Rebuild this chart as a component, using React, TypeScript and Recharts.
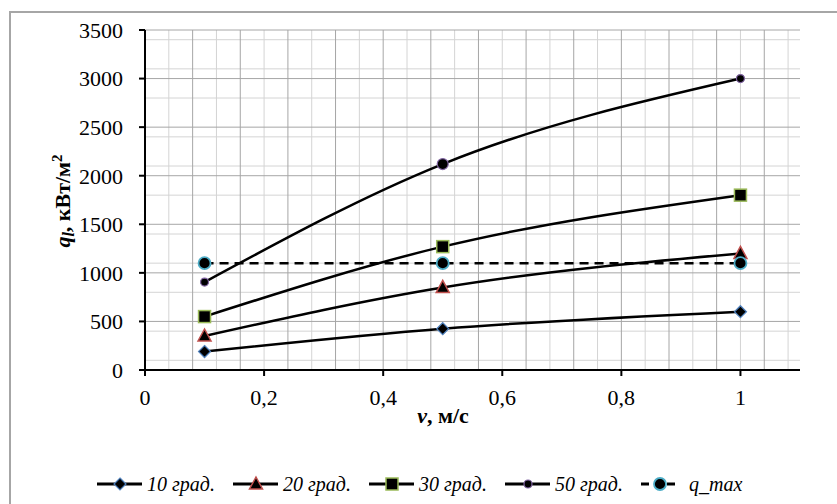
import React from 'react'
import { LineChart, Line, XAxis, YAxis, CartesianGrid, Label } from 'recharts'

// скорость, м/с
const speeds = [0.1, 0.5, 1]

// тепловой поток q_l, кВт/м2 по температурным напорам
const q10 = [190, 425, 600]
const q20 = [350, 850, 1200]
const q30 = [550, 1270, 1800]
const q50 = [905, 2120, 3000]
const qMax = [1100, 1100, 1100]

const xTicks = [0, 0.2, 0.4, 0.6, 0.8, 1]
const yTicks = [0, 500, 1000, 1500, 2000, 2500, 3000, 3500]

const seriesNames = ['10 град.', '20 град.', '30 град.', '50 град.', 'q_max']

const data = speeds.map((x, i) => ({
  x,
  s10: q10[i],
  s20: q20[i],
  s30: q30[i],
  s50: q50[i],
  qmax: qMax[i]
}))

const FONT = 'Liberation Serif'

// сетка как в Excel: вертикальные через 0.04, горизонтальные через 100
const vMinor: number[] = []
const vMajor: number[] = []
for (let k = 1; k <= 27; k++) {
  const v = Math.round(k * 0.04 * 100) / 100
  if (k % 2 === 0) vMajor.push(v)
  else vMinor.push(v)
}
const hMinor: number[] = []
for (let k = 100; k <= 3500; k += 100) if (k % 500 !== 0) hMinor.push(k)
const hMajor = yTicks.filter(v => v > 0)

const markerColors = {
  s10: '#4F81BD',
  s20: '#C0504D',
  s30: '#9BBB59',
  s50: '#8064A2',
  qmax: '#4BACC6'
}

type Shape = 'diamond' | 'triangle' | 'square' | 'circle' | 'bigcircle'

const drawMarker = (shape: Shape, cx: number, cy: number, outline: string, big = false) => {
  if (shape === 'diamond') {
    const r = 6
    return <polygon points={`${cx},${cy - r} ${cx + r},${cy} ${cx},${cy + r} ${cx - r},${cy}`} fill="#000" stroke={outline} strokeWidth={1.2} />
  }
  if (shape === 'triangle') {
    return <polygon points={`${cx},${cy - 7} ${cx + 6.5},${cy + 5} ${cx - 6.5},${cy + 5}`} fill="#000" stroke={outline} strokeWidth={1.5} />
  }
  if (shape === 'square') {
    return <rect x={cx - 6} y={cy - 6} width={12} height={12} fill="#000" stroke={outline} strokeWidth={1.5} />
  }
  if (shape === 'circle') {
    return <circle cx={cx} cy={cy} r={big ? 5.5 : 4} fill="#000" stroke={outline} strokeWidth={1.2} />
  }
  return <circle cx={cx} cy={cy} r={6} fill="#000" stroke={outline} strokeWidth={1.8} />
}

const makeDot = (shape: Shape, outline: string) => (props: any) => {
  const { cx, cy, index } = props
  if (cx == null || cy == null) return <g key={`d-${shape}-${index}`} />
  return (
    <g key={`d-${shape}-${index}`}>
      {drawMarker(shape, cx, cy, outline, shape === 'circle' && index === 1)}
    </g>
  )
}

const YTitle = () => (
  <g transform="translate(70,201) rotate(-90)">
    <text x={0} y={0} textAnchor="middle" style={{ fontFamily: FONT }} fontSize={22} fontWeight="bold" fill="#000">
      <tspan fontStyle="italic">q</tspan>
      <tspan fontStyle="italic" fontSize={16} dy={4}>l</tspan>
      <tspan dy={-4}>, кВт/м</tspan>
      <tspan fontSize={15} dy={-8}>2</tspan>
    </text>
  </g>
)

const XTitle = () => (
  <text x={443} y={423} textAnchor="middle" style={{ fontFamily: FONT }} fontSize={22} fontWeight="bold" fill="#000">
    <tspan fontStyle="italic">v</tspan>
    <tspan>, м/с</tspan>
  </text>
)

const fmt = (v: number) => String(v).replace('.', ',')

const legendShapes: Shape[] = ['diamond', 'triangle', 'square', 'circle', 'bigcircle']
const legendColors = [markerColors.s10, markerColors.s20, markerColors.s30, markerColors.s50, markerColors.qmax]

const ChartLegend = () => (
  <div
    style={{
      position: 'absolute',
      left: 96,
      top: 472,
      display: 'flex',
      alignItems: 'center',
      fontFamily: FONT,
      fontStyle: 'italic',
      fontSize: 20
    }}
  >
    {seriesNames.map((name, i) => {
      const dashed = i === 4
      return (
        <div key={name} style={{ display: 'flex', alignItems: 'center', width: i < 4 ? 136 : undefined }}>
          <svg width={dashed ? 40 : 47} height={24}>
            <line
              x1={1}
              x2={dashed ? 39 : 46}
              y1={12}
              y2={12}
              stroke="#000"
              strokeWidth={3}
              strokeDasharray={dashed ? '8 5' : undefined}
            />
            {drawMarker(legendShapes[i], dashed ? 20 : 24, 12, legendColors[i])}
          </svg>
          <span style={{ marginLeft: dashed ? 9 : 4 }}>{name}</span>
        </div>
      )
    })}
  </div>
)

export default function App() {
  return (
    <div style={{ position: 'fixed', left: 0, top: 0, width: 837, height: 504, background: '#fff', overflow: 'hidden' }}>
      <div
        style={{
          position: 'absolute',
          left: 9,
          top: 11,
          width: 860,
          height: 520,
          border: '2px solid #a6a6a6',
          boxSizing: 'border-box'
        }}
      />
      <div style={{ position: 'absolute', left: 0, top: 0 }}>
        <LineChart width={837} height={504} data={data} margin={{ top: 30, right: 37, bottom: 74, left: 0 }}>
          <CartesianGrid
            stroke="#d4d4d4"
            strokeWidth={1}
            horizontalValues={hMinor}
            verticalValues={vMinor}
          />
          <CartesianGrid
            stroke="#a6a6a6"
            strokeWidth={1}
            horizontalValues={hMajor}
            verticalValues={vMajor}
          />
          <XAxis
            type="number"
            dataKey="x"
            domain={[0, 1.1]}
            ticks={xTicks}
            tickFormatter={fmt}
            height={60}
            tickSize={6}
            tickMargin={13}
            axisLine={{ stroke: '#000', strokeWidth: 2 }}
            tickLine={{ stroke: '#000', strokeWidth: 2 }}
            tick={{ fill: '#000', fontSize: 22, style: { fontFamily: FONT } }}
            allowDataOverflow
          >
            <Label content={<XTitle />} />
          </XAxis>
          <YAxis
            type="number"
            domain={[0, 3500]}
            ticks={yTicks}
            width={145}
            tickSize={6}
            tickMargin={16}
            axisLine={{ stroke: '#000', strokeWidth: 2 }}
            tickLine={{ stroke: '#000', strokeWidth: 2 }}
            tick={{ fill: '#000', fontSize: 22, style: { fontFamily: FONT } }}
            allowDataOverflow
          >
            <Label content={<YTitle />} />
          </YAxis>
          <Line type="monotone" dataKey="s10" name={seriesNames[0]} stroke="#000" strokeWidth={2.5} dot={makeDot('diamond', markerColors.s10)} activeDot={false} isAnimationActive={false} />
          <Line type="monotone" dataKey="s20" name={seriesNames[1]} stroke="#000" strokeWidth={2.5} dot={makeDot('triangle', markerColors.s20)} activeDot={false} isAnimationActive={false} />
          <Line type="monotone" dataKey="s30" name={seriesNames[2]} stroke="#000" strokeWidth={2.5} dot={makeDot('square', markerColors.s30)} activeDot={false} isAnimationActive={false} />
          <Line type="monotone" dataKey="s50" name={seriesNames[3]} stroke="#000" strokeWidth={2.5} dot={makeDot('circle', markerColors.s50)} activeDot={false} isAnimationActive={false} />
          <Line type="linear" dataKey="qmax" name={seriesNames[4]} stroke="#000" strokeWidth={2.5} strokeDasharray="9 6" dot={makeDot('bigcircle', markerColors.qmax)} activeDot={false} isAnimationActive={false} />
        </LineChart>
      </div>
      <ChartLegend />
    </div>
  )
}
